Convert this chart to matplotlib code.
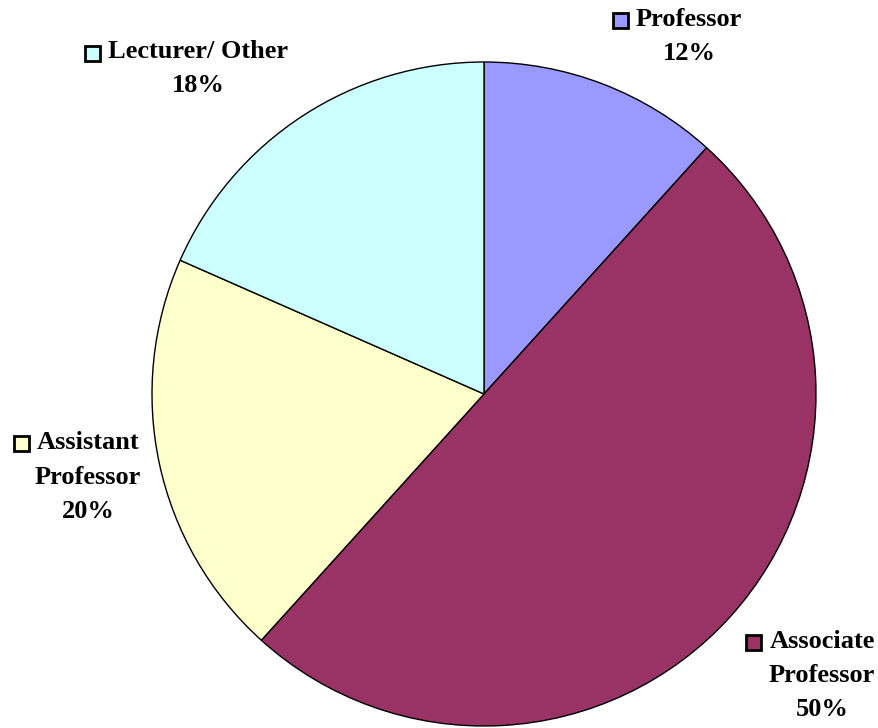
import matplotlib.pyplot as plt
from matplotlib.patches import Rectangle

# data (slice sizes; labels show rounded values)
categories = ["Professor", "Associate\nProfessor", "Assistant\nProfessor", "Lecturer/ Other"]
shares = [11.7, 50.0, 19.9, 18.4]
colors = ["#9999FF", "#993366", "#FFFFCC", "#CCFFFF"]

W, H = 879, 728
fig = plt.figure(figsize=(W / 100, H / 100), dpi=100)
ax = fig.add_axes([0, 0, 1, 1])

ax.pie(shares, colors=colors, startangle=90, counterclock=False,
       center=(484, H - 394), radius=332,
       wedgeprops=dict(edgecolor="black", linewidth=1))
ax.set_xlim(0, W)
ax.set_ylim(0, H)
ax.set_aspect("equal")
ax.axis("off")

font = dict(family="Liberation Serif", weight="bold", size=19)

# label layout: (center x of text block, y of first line in px from top)
label_pos = [(689, 19), (822, 641), (88, 443), (198, 52)]
line_h = 34

fig.canvas.draw()
for name, pct, col, (cx, ty) in zip(categories, shares, colors, label_pos):
    lines = name.split("\n") + [f"{pct:.0f}%"]
    for i, ln in enumerate(lines):
        t = ax.text(cx, H - (ty + i * line_h), ln, ha="center", va="center", **font)
        if i == 0:
            bb = t.get_window_extent(renderer=fig.canvas.get_renderer())
    # square marker left of the first line
    size = 15
    ax.add_patch(Rectangle((bb.x0 - 8 - size, H - ty - size / 2 - 1), size, size,
                           facecolor=col, edgecolor="black", linewidth=2))

fig.savefig("out.png", dpi=100)
